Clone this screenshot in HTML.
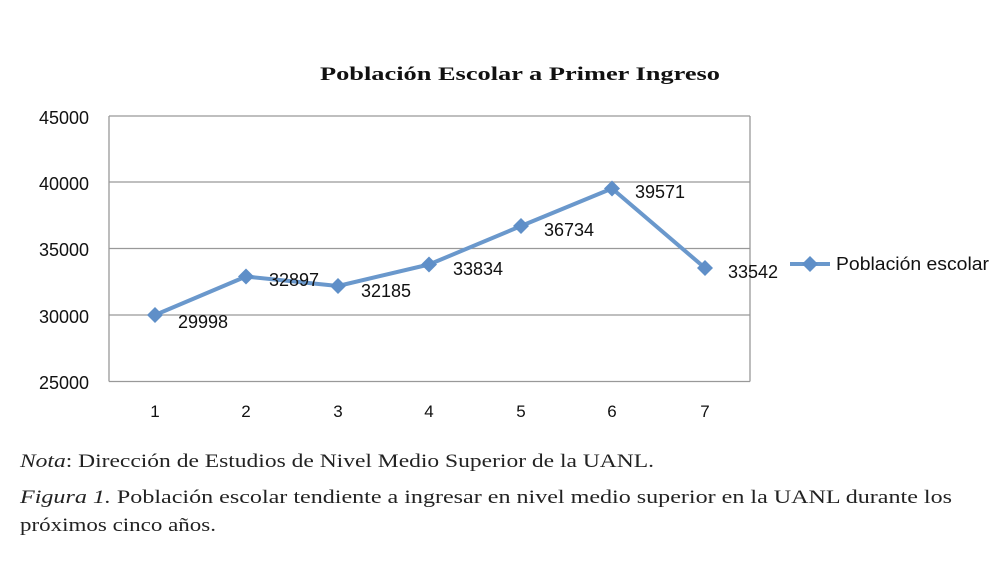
<!DOCTYPE html>
<html><head><meta charset="utf-8"><style>
body{margin:0;background:#fff;width:994px;height:583px;overflow:hidden}
svg{display:block}
</style></head><body>
<svg width="994" height="583" xmlns="http://www.w3.org/2000/svg">
<rect width="994" height="583" fill="#fff"/>
<text x="320" y="80" textLength="400" lengthAdjust="spacingAndGlyphs" font-family="Liberation Serif, serif" font-weight="bold" font-size="19" fill="#111">Población Escolar a Primer Ingreso</text>
<g stroke="#999" stroke-width="1.3">
<line x1="109" y1="116" x2="750" y2="116"/>
<line x1="109" y1="182" x2="750" y2="182"/>
<line x1="109" y1="248.5" x2="750" y2="248.5"/>
<line x1="109" y1="315" x2="750" y2="315"/>
<line x1="109" y1="381.5" x2="750" y2="381.5"/>
<line x1="109" y1="116" x2="109" y2="381.5"/>
<line x1="750" y1="116" x2="750" y2="381.5"/>
</g>
<g font-family="Liberation Sans, sans-serif" font-size="18" fill="#111" text-anchor="end">
<text x="89" y="124">45000</text>
<text x="89" y="190">40000</text>
<text x="89" y="256">35000</text>
<text x="89" y="323">30000</text>
<text x="89" y="389">25000</text>
</g>
<g font-family="Liberation Sans, sans-serif" font-size="17" fill="#111" text-anchor="middle">
<text x="155" y="417">1</text><text x="246" y="417">2</text><text x="338" y="417">3</text><text x="429" y="417">4</text><text x="521" y="417">5</text><text x="612" y="417">6</text><text x="705" y="417">7</text>
</g>
<polyline fill="none" stroke="#6a98cc" stroke-width="4" stroke-linejoin="round" points="155,315 246,276.5 338,286 429,264.5 521,226 612,188.5 705,268"/>
<g fill="#5f8fc8">
<path d="M155,307l8,8l-8,8l-8,-8z"/>
<path d="M246,268.5l8,8l-8,8l-8,-8z"/>
<path d="M338,278l8,8l-8,8l-8,-8z"/>
<path d="M429,256.5l8,8l-8,8l-8,-8z"/>
<path d="M521,218l8,8l-8,8l-8,-8z"/>
<path d="M612,180.5l8,8l-8,8l-8,-8z"/>
<path d="M705,260l8,8l-8,8l-8,-8z"/>
</g>
<g font-family="Liberation Sans, sans-serif" font-size="18" fill="#111">
<text x="178" y="328">29998</text>
<text x="269" y="286">32897</text>
<text x="361" y="297">32185</text>
<text x="453" y="275">33834</text>
<text x="544" y="236">36734</text>
<text x="635" y="198">39571</text>
<text x="728" y="278">33542</text>
</g>
<line x1="790" y1="264" x2="830" y2="264" stroke="#6a98cc" stroke-width="4"/>
<path d="M810,256l8,8l-8,8l-8,-8z" fill="#5f8fc8"/>
<text x="836" y="270" textLength="153" lengthAdjust="spacingAndGlyphs" font-family="Liberation Sans, sans-serif" font-size="18" fill="#111">Población escolar</text>
<g font-family="Liberation Serif, serif" font-size="19" fill="#222">
<text x="20" y="467" textLength="634" lengthAdjust="spacingAndGlyphs"><tspan font-style="italic">Nota</tspan>: Dirección de Estudios de Nivel Medio Superior de la UANL.</text>
<text x="20" y="503" textLength="932" lengthAdjust="spacingAndGlyphs"><tspan font-style="italic">Figura 1.</tspan> Población escolar tendiente a ingresar en nivel medio superior en la UANL durante los</text>
<text x="20" y="531" textLength="196" lengthAdjust="spacingAndGlyphs">próximos cinco años.</text>
</g>
</svg>
</body></html>
